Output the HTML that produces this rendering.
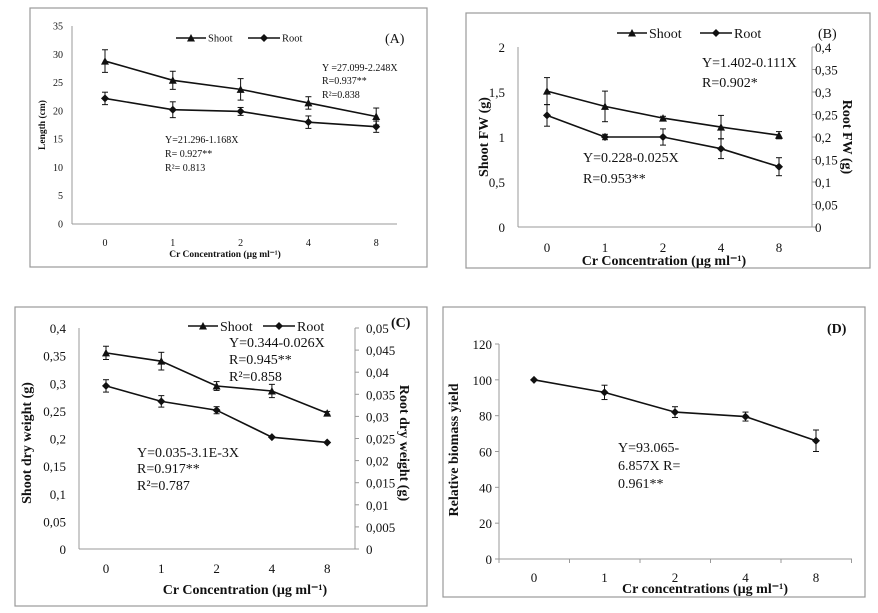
<!DOCTYPE html>
<html><head><meta charset="utf-8"><style>
body{margin:0;background:#fff;width:878px;height:613px;overflow:hidden}
svg{display:block;font-family:"Liberation Serif",serif}
</style></head><body>
<svg id="s" width="878" height="613" viewBox="0 0 878 613"></svg>
<script>
const categories = ["0","1","2","4","8"];
// Panel A
const aShoot = [28.8,25.4,23.8,21.4,19.0];
const aShootErr = [2.0,1.6,1.9,1.1,1.5];
const aRoot = [22.2,20.2,19.9,18.0,17.2];
const aRootErr = [1.1,1.4,0.7,1.1,1.0];
const aTicks = ["0","5","10","15","20","25","30","35"];
// Panel B
const bShoot = [1.51,1.34,1.21,1.11,1.02];
const bShootErr = [0.15,0.17,0.02,0.13,0.04];
const bRoot = [0.248,0.2,0.2,0.174,0.134];
const bRootErr = [0.024,0.006,0.018,0.022,0.02];
const bTicksL = ["0","0,5","1","1,5","2"];
const bTicksR = ["0","0,05","0,1","0,15","0,2","0,25","0,3","0,35","0,4"];
// Panel C
const cShoot = [0.355,0.34,0.295,0.286,0.246];
const cShootErr = [0.012,0.016,0.008,0.012,0.003];
const cRoot = [0.0369,0.0334,0.0314,0.0253,0.0241];
const cRootErr = [0.0014,0.0013,0.0008,0,0];
const cTicksL = ["0","0,05","0,1","0,15","0,2","0,25","0,3","0,35","0,4"];
const cTicksR = ["0","0,005","0,01","0,015","0,02","0,025","0,03","0,035","0,04","0,045","0,05"];
// Panel D
const dYield = [100,93,82,79.5,66];
const dErr = [0,4,3,2.5,6];
const dTicks = ["0","20","40","60","80","100","120"];

const NS="http://www.w3.org/2000/svg", S=document.getElementById('s');
function el(tag,at,parent,txt){const e=document.createElementNS(NS,tag);for(const k in at)e.setAttribute(k,at[k]);if(txt!==undefined)e.textContent=txt;(parent||S).appendChild(e);return e;}
function txt(x,y,t,size,opt,name){opt=opt||{};const e=el('text',{x:x,y:y,'font-size':size,fill:'#111','text-anchor':opt.anchor||'start','font-weight':opt.bold?'bold':'normal'},opt.g||S,t);if(opt.rot)e.setAttribute('transform','rotate('+opt.rot+' '+x+' '+y+')');


return e;}
function line(x1,y1,x2,y2,c,w,g){return el('line',{x1:x1,y1:y1,x2:x2,y2:y2,stroke:c||'#888','stroke-width':w||1},g||S);}
function series(g,vals,errs,xf,yf,marker,name){
  const pts=vals.map((v,i)=>xf(i)+','+yf(v)).join(' ');
  const p=el('polyline',{points:pts,fill:'none',stroke:'#111','stroke-width':1.6},g);
  
  
  vals.forEach((v,i)=>{const x=xf(i);
    if(errs[i]>0){line(x,yf(v+errs[i]),x,yf(v-errs[i]),'#111',1,g);line(x-3,yf(v+errs[i]),x+3,yf(v+errs[i]),'#111',1,g);line(x-3,yf(v-errs[i]),x+3,yf(v-errs[i]),'#111',1,g);}
    const y=yf(v);let m;
    if(marker==='tri')m=el('polygon',{points:(x-4)+','+(y+3.5)+' '+(x+4)+','+(y+3.5)+' '+x+','+(y-4),fill:'#111'},g);
    else m=el('polygon',{points:x+','+(y-4)+' '+(x+4)+','+y+' '+x+','+(y+4)+' '+(x-4)+','+y,fill:'#111'},g);
    
    
  });
}
function panel(name,x,y,w,h){const g=el('g',{},S);
  el('rect',{x:x,y:y,width:w,height:h,fill:'#fff',stroke:'#999','stroke-width':1.2},g);return g;}
function legend(g,x1,x2,y,size){
  line(x1,y,x1+30,y,'#111',1.6,g);el('polygon',{points:(x1+11)+','+(y+3.5)+' '+(x1+19)+','+(y+3.5)+' '+(x1+15)+','+(y-4),fill:'#111'},g);
  txt(x1+32,y+size*0.35,'Shoot',size,{g:g},'legend-shoot');
  line(x2,y,x2+32,y,'#111',1.6,g);el('polygon',{points:(x2+16)+','+(y-4)+' '+(x2+20)+','+y+' '+(x2+16)+','+(y+4)+' '+(x2+12)+','+y,fill:'#111'},g);
  txt(x2+34,y+size*0.35,'Root',size,{g:g},'legend-root');
}

// ---- Panel A
(function(){const g=panel('panel-a',30,8,397,259);
  const L=72,R=412,T=26,B=224, xf=i=>105+i*67.8, yf=v=>B-(v/35)*(B-T);
  line(L,T,L,B,'#999',1,g);line(L,B,R-15,B,'#999',1,g);
  aTicks.forEach(t=>txt(63,yf(+t)+3.5,t,10,{anchor:'end',g:g},'y-tick'));
  categories.forEach((c,i)=>txt(xf(i),246,c,10,{anchor:'middle',g:g},'x-tick'));
  series(g,aShoot,aShootErr,xf,yf,'tri','shoot');
  series(g,aRoot,aRootErr,xf,yf,'dia','root');
  legend(g,176,248,38,10.5);
  txt(385,43,'(A)',14,{g:g},'panel-label');
  txt(322,71,'Y =27.099-2.248X',10,{g:g},'shoot-equation');txt(322,84,'R=0.937**',10,{g:g},'shoot-r');txt(322,98,'R²=0.838',10,{g:g},'shoot-r2');
  txt(165,143,'Y=21.296-1.168X',10,{g:g},'root-equation');txt(165,157,'R= 0.927**',10,{g:g},'root-r');txt(165,171,'R²= 0.813',10,{g:g},'root-r2');
  txt(225,257,'Cr Concentration (µg ml⁻¹)',9.5,{anchor:'middle',bold:true,g:g},'x-axis-title');
  txt(45,125,'Length (cm)',9.5,{anchor:'middle',bold:true,rot:-90,g:g},'y-axis-title');
})();

// ---- Panel B
(function(){const g=panel('panel-b',466,13,404,255);
  const L=518,R=812,T=47,B=227, xf=i=>547+i*58, yf=v=>B-(v/2)*(B-T), yr=v=>B-(v/0.4)*(B-T);
  line(L,T,L,B,'#999',1,g);line(L,B,R,B,'#999',1,g);line(R,T,R,B,'#999',1,g);
  bTicksL.forEach(t=>txt(505,yf(+t.replace(',','.'))+5,t,13,{anchor:'end',g:g},'y-left-tick'));
  bTicksR.forEach(t=>{const v=+t.replace(',','.');line(R,yr(v),R+4,yr(v),'#999',1,g);txt(815,yr(v)+5,t,13,{g:g},'y-right-tick');});
  categories.forEach((c,i)=>txt(xf(i),252,c,13,{anchor:'middle',g:g},'x-tick'));
  series(g,bShoot,bShootErr,xf,yf,'tri','shoot');
  series(g,bRoot,bRootErr,xf,yr,'dia','root');
  legend(g,617,700,33,14);
  txt(818,38,'(B)',14,{g:g},'panel-label');
  txt(702,67,'Y=1.402-0.111X',14,{g:g},'shoot-equation');txt(702,87,'R=0.902*',14,{g:g},'shoot-r');
  txt(583,162,'Y=0.228-0.025X',14,{g:g},'root-equation');txt(583,183,'R=0.953**',14,{g:g},'root-r');
  txt(664,265,'Cr Concentration (µg ml⁻¹)',14,{anchor:'middle',bold:true,g:g},'x-axis-title');
  txt(488,137,'Shoot FW (g)',14,{anchor:'middle',bold:true,rot:-90,g:g},'y-left-title');
  txt(843,137,'Root FW (g)',14,{anchor:'middle',bold:true,rot:90,g:g},'y-right-title');
})();

// ---- Panel C
(function(){const g=panel('panel-c',15,307,412,299);
  const L=79,R=355,T=328,B=549, xf=i=>106+i*55.3, yf=v=>B-(v/0.4)*(B-T), yr=v=>B-(v/0.05)*(B-T);
  line(L,T,L,B,'#999',1,g);line(L,B,R,B,'#999',1,g);line(R,T,R,B,'#999',1,g);
  cTicksL.forEach(t=>txt(66,yf(+t.replace(',','.'))+5,t,13,{anchor:'end',g:g},'y-left-tick'));
  cTicksR.forEach(t=>{const v=+t.replace(',','.');line(R,yr(v),R+4,yr(v),'#999',1,g);txt(366,yr(v)+5,t,13,{g:g},'y-right-tick');});
  categories.forEach((c,i)=>txt(xf(i),573,c,13,{anchor:'middle',g:g},'x-tick'));
  series(g,cShoot,cShootErr,xf,yf,'tri','shoot');
  series(g,cRoot,cRootErr,xf,yr,'dia','root');
  legend(g,188,263,326,14);
  txt(391,327,'(C)',14,{bold:true,g:g},'panel-label');
  txt(229,347,'Y=0.344-0.026X',14,{g:g},'shoot-equation');txt(229,364,'R=0.945**',14,{g:g},'shoot-r');txt(229,381,'R²=0.858',14,{g:g},'shoot-r2');
  txt(137,457,'Y=0.035-3.1E-3X',14,{g:g},'root-equation');txt(137,473,'R=0.917**',14,{g:g},'root-r');txt(137,490,'R²=0.787',14,{g:g},'root-r2');
  txt(245,594,'Cr Concentration (µg ml⁻¹)',14,{anchor:'middle',bold:true,g:g},'x-axis-title');
  txt(31,443,'Shoot dry weight (g)',14,{anchor:'middle',bold:true,rot:-90,g:g},'y-left-title');
  txt(400,443,'Root dry weight (g)',14,{anchor:'middle',bold:true,rot:90,g:g},'y-right-title');
})();

// ---- Panel D
(function(){const g=panel('panel-d',443,307,422,290);
  const L=499,R=852,T=344,B=559, xf=i=>534+i*70.5, yf=v=>B-(v/120)*(B-T);
  line(L,T,L,B,'#999',1,g);line(L,B,R,B,'#999',1,g);
  dTicks.forEach(t=>{line(L-4,yf(+t),L,yf(+t),'#999',1,g);txt(492,yf(+t)+5,t,13,{anchor:'end',g:g},'y-tick');});
  for(let i=0;i<=5;i++)line(L+i*70.5,B,L+i*70.5,B+4,'#999',1,g);
  categories.forEach((c,i)=>txt(xf(i),582,c,13,{anchor:'middle',g:g},'x-tick'));
  series(g,dYield,dErr,xf,yf,'dia','yield');
  txt(827,333,'(D)',14,{bold:true,g:g},'panel-label');
  txt(618,452,'Y=93.065-',14,{g:g},'equation');txt(618,470,'6.857X   R=',14,{g:g},'equation-r');txt(618,488,'0.961**',14,{g:g},'equation-r-value');
  txt(705,593,'Cr concentrations (µg ml⁻¹)',14,{anchor:'middle',bold:true,g:g},'x-axis-title');
  txt(458,450,'Relative biomass yield',14,{anchor:'middle',bold:true,rot:-90,g:g},'y-axis-title');
})();
</script>
</body></html>
